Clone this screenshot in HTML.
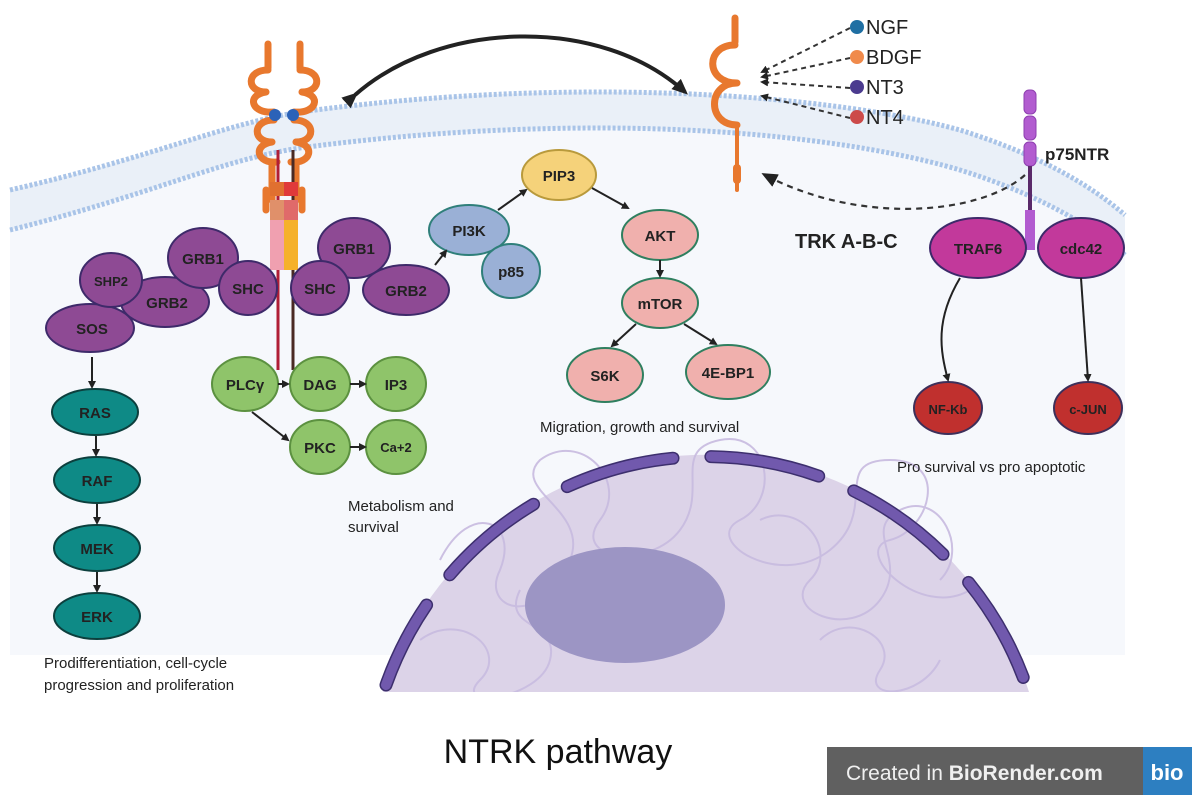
<!DOCTYPE html>
<html><head><meta charset="utf-8"><style>
html,body{margin:0;padding:0;background:#fff;width:1200px;height:808px;overflow:hidden;}
svg{display:block;}
svg text{font-family:"Liberation Sans",sans-serif;}
</style></head><body>
<svg width="1200" height="808" viewBox="0 0 1200 808" xmlns="http://www.w3.org/2000/svg">
<defs>
<marker id="ah" markerWidth="8" markerHeight="8" refX="6" refY="4" orient="auto" markerUnits="userSpaceOnUse"><path d="M0,0 L8,4 L0,8 Z" fill="#222"/></marker>
<marker id="ahb" markerWidth="16" markerHeight="14" refX="12" refY="7" orient="auto" markerUnits="userSpaceOnUse"><path d="M0,0 L16,7 L0,14 Z" fill="#222"/></marker>
</defs>
<path d="M10,190 C150,158 220,125 300,112 C420,96 520,92 600,92 C750,92 880,108 960,130 C1040,155 1090,185 1125,215 L1125,655 L10,655 Z" fill="#f6f8fc"/>
<path d="M10,190 C150,158 220,125 300,112 C420,96 520,92 600,92 C750,92 880,108 960,130 C1040,155 1090,185 1125,215 L1125,255 C1090,225 1040,195 960,170 C880,146 750,128 600,128 C520,128 420,132 300,148 C220,160 150,195 10,230 Z" fill="#eaf0f8"/>
<path d="M10,190 C150,158 220,125 300,112 C420,96 520,92 600,92 C750,92 880,108 960,130 C1040,155 1090,185 1125,215" fill="none" stroke="#a9c4e8" stroke-width="5" stroke-dasharray="3,2"/>
<path d="M10,230 C150,195 220,160 300,148 C420,132 520,128 600,128 C750,128 880,146 960,170 C1040,195 1090,225 1125,255" fill="none" stroke="#a9c4e8" stroke-width="5" stroke-dasharray="3,2"/>
<!-- nucleus -->
<path d="M383,692 A340,345 0 0 1 1029,692 Z" fill="#dcd3e8"/>
<g fill="none" stroke="#c8bbe0" stroke-width="2" opacity="0.9">
<path d="M440,560 c30,-60 80,-40 60,10 c-20,40 40,60 70,-10 c20,-50 -60,-70 -30,-100 c40,-30 90,20 60,60 c-30,40 50,50 80,10 c30,-40 -10,-80 40,-90 c50,-10 60,60 20,80 c-40,20 40,70 90,30 c50,-40 0,-90 60,-90 c60,0 40,70 0,80 c-40,10 30,80 80,50"/>
<path d="M420,640 c40,-30 90,10 60,40 c-30,30 60,20 70,-20 c10,-40 -50,-30 -30,-70 M760,520 c40,-20 80,30 50,60 c-30,30 40,60 70,20 c30,-40 -20,-70 20,-90 c40,-20 70,40 40,70 M820,640 c30,-30 80,0 60,30 c-20,30 40,30 60,-10"/>
</g>
<ellipse cx="625" cy="605" rx="100" ry="58" fill="#9c95c4"/>
<path d="M386,685 A340,345 0 0 1 1026,685" fill="none" stroke="#3d2f6e" stroke-width="13" stroke-dasharray="110,38" stroke-linecap="round" stroke-dashoffset="20"/>
<path d="M386,685 A340,345 0 0 1 1026,685" fill="none" stroke="#7159ad" stroke-width="10" stroke-dasharray="110,38" stroke-linecap="round" stroke-dashoffset="20"/>
<rect x="370" y="692" width="680" height="20" fill="#fff"/>
<!-- big arrow -->
<path d="M355,95 C440,20 600,15 685,92" fill="none" stroke="#222" stroke-width="4" marker-start="url(#ahb)" marker-end="url(#ahb)"/>
<!-- left receptor -->
<g fill="none" stroke="#e8782e" stroke-width="7" stroke-linecap="round">
<line x1="268" y1="44" x2="268" y2="68"/><line x1="300" y1="44" x2="300" y2="68"/>
<path d="M268,70 c-22,0 -22,22 -2,22 M266,92 c-20,3 -15,22 8,20"/>
<path d="M300,70 c22,0 22,22 2,22 M302,92 c20,3 15,22 -8,20"/>
<path d="M274,120 c-22,0 -22,22 -2,22 M272,142 c-20,3 -15,22 5,20"/>
<path d="M294,120 c22,0 22,22 2,22 M296,142 c20,3 15,22 -5,20"/>
<line x1="272" y1="162" x2="272" y2="200"/><line x1="296" y1="162" x2="296" y2="200"/>
<line x1="266" y1="190" x2="266" y2="210"/><line x1="302" y1="190" x2="302" y2="210"/>
</g>
<line x1="278" y1="150" x2="278" y2="370" stroke="#b01e36" stroke-width="3"/>
<line x1="293" y1="150" x2="293" y2="370" stroke="#4a2a24" stroke-width="3"/>
<rect x="270" y="182" width="14" height="14" fill="#e07030"/><rect x="284" y="182" width="14" height="14" fill="#e03a3a"/>
<rect x="270" y="200" width="14" height="20" fill="#e0906a"/><rect x="284" y="200" width="14" height="20" fill="#e06a6a"/>
<rect x="270" y="220" width="14" height="50" fill="#f0a0b0"/><rect x="284" y="220" width="14" height="50" fill="#f5b12a"/>
<circle cx="275" cy="115" r="6" fill="#2b62b8"/><circle cx="293" cy="115" r="6" fill="#2b62b8"/>
<!-- right receptor -->
<g fill="none" stroke="#e8782e" stroke-width="7" stroke-linecap="round">
<line x1="735" y1="18" x2="735" y2="42"/>
<path d="M735,45 c-30,0 -30,38 2,38 M737,83 c-30,0 -30,42 0,42"/>
<line x1="737" y1="125" x2="737" y2="190" stroke-width="4"/>
<line x1="737" y1="168" x2="737" y2="180" stroke-width="8"/>
</g>
<g stroke="#333" stroke-width="2" stroke-dasharray="5,4" fill="none">
<line x1="850" y1="28" x2="762" y2="72" marker-end="url(#ah)"/>
<line x1="850" y1="58" x2="762" y2="77" marker-end="url(#ah)"/>
<line x1="850" y1="88" x2="762" y2="82" marker-end="url(#ah)"/>
<line x1="850" y1="118" x2="762" y2="96" marker-end="url(#ah)"/>
</g>
<circle cx="857" cy="27" r="7" fill="#1f6fa3"/><circle cx="857" cy="57" r="7" fill="#f08a4b"/>
<circle cx="857" cy="87" r="7" fill="#4b3b8f"/><circle cx="857" cy="117" r="7" fill="#cc4a4a"/>
<g font-size="20" fill="#222"><text x="866" y="34">NGF</text><text x="866" y="64">BDGF</text><text x="866" y="94">NT3</text><text x="866" y="124">NT4</text></g>
<g fill="#b25cd0" stroke="#8e3fb0" stroke-width="1">
<rect x="1024" y="90" width="12" height="24" rx="5"/><rect x="1024" y="116" width="12" height="24" rx="5"/><rect x="1024" y="142" width="12" height="24" rx="5"/>
</g>
<line x1="1030" y1="166" x2="1030" y2="212" stroke="#5a2a6a" stroke-width="4"/>
<rect x="1025" y="210" width="10" height="40" fill="#b25cd0"/>
<text x="1045" y="160" font-size="17" font-weight="bold" fill="#222">p75NTR</text>
<path d="M1025,175 C980,215 860,225 765,175" fill="none" stroke="#333" stroke-width="2.2" stroke-dasharray="6,5" marker-end="url(#ahb)"/>
<text x="795" y="248" font-size="20" font-weight="bold" fill="#222">TRK A-B-C</text>
<g stroke-width="2" font-weight="bold" text-anchor="middle" font-size="15" fill="#222">
<g stroke="#3d2a6a" fill="#c2399b">
<ellipse cx="978" cy="248" rx="48" ry="30"/><ellipse cx="1081" cy="248" rx="43" ry="30"/>
</g>
<g stroke="#3d2f5a" fill="#c0302e">
<ellipse cx="948" cy="408" rx="34" ry="26"/><ellipse cx="1088" cy="408" rx="34" ry="26"/>
</g>
<g stroke="#3e2a6a" fill="#8e4a94">
<ellipse cx="90" cy="328" rx="44" ry="24"/>
<ellipse cx="165" cy="302" rx="44" ry="25"/>
<ellipse cx="111" cy="280" rx="31" ry="27"/>
<ellipse cx="203" cy="258" rx="35" ry="30"/>
<ellipse cx="248" cy="288" rx="29" ry="27"/>
<ellipse cx="354" cy="248" rx="36" ry="30"/>
<ellipse cx="406" cy="290" rx="43" ry="25"/>
<ellipse cx="320" cy="288" rx="29" ry="27"/>
</g>
<g stroke="#2f7f7a" fill="#9ab0d6">
<ellipse cx="469" cy="230" rx="40" ry="25"/><ellipse cx="511" cy="271" rx="29" ry="27"/>
</g>
<ellipse cx="559" cy="175" rx="37" ry="25" stroke="#b99a3c" fill="#f5d27a"/>
<g stroke="#2f7f5f" fill="#f0b0ad">
<ellipse cx="660" cy="235" rx="38" ry="25"/><ellipse cx="660" cy="303" rx="38" ry="25"/>
<ellipse cx="605" cy="375" rx="38" ry="27"/><ellipse cx="728" cy="372" rx="42" ry="27"/>
</g>
<g stroke="#0c3f3d" fill="#0e8a86">
<ellipse cx="95" cy="412" rx="43" ry="23"/><ellipse cx="97" cy="480" rx="43" ry="23"/>
<ellipse cx="97" cy="548" rx="43" ry="23"/><ellipse cx="97" cy="616" rx="43" ry="23"/>
</g>
<g stroke="#5c9140" fill="#8fc46a">
<ellipse cx="245" cy="384" rx="33" ry="27"/><ellipse cx="320" cy="384" rx="30" ry="27"/>
<ellipse cx="396" cy="384" rx="30" ry="27"/><ellipse cx="320" cy="447" rx="30" ry="27"/>
<ellipse cx="396" cy="447" rx="30" ry="27"/>
</g>
<g stroke="none">
<text x="978" y="254">TRAF6</text><text x="1081" y="254">cdc42</text>
<text x="948" y="414" font-size="13">NF-Kb</text><text x="1088" y="414" font-size="13">c-JUN</text>
<text x="92" y="334">SOS</text><text x="167" y="308">GRB2</text><text x="111" y="286" font-size="13">SHP2</text>
<text x="203" y="264">GRB1</text><text x="248" y="294">SHC</text><text x="354" y="254">GRB1</text>
<text x="406" y="296">GRB2</text><text x="320" y="294">SHC</text>
<text x="469" y="236">PI3K</text><text x="511" y="277">p85</text><text x="559" y="181">PIP3</text>
<text x="660" y="241">AKT</text><text x="660" y="309">mTOR</text><text x="605" y="381">S6K</text><text x="728" y="378">4E-BP1</text>
<text x="95" y="418">RAS</text><text x="97" y="486">RAF</text><text x="97" y="554">MEK</text><text x="97" y="622">ERK</text>
<text x="245" y="390">PLCγ</text><text x="320" y="390">DAG</text><text x="396" y="390">IP3</text>
<text x="320" y="453">PKC</text><text x="396" y="452" font-size="13">Ca+2</text>
</g>
</g>
<g stroke="#222" stroke-width="2" fill="none" marker-end="url(#ah)">
<line x1="435" y1="265" x2="446" y2="251"/>
<line x1="498" y1="210" x2="526" y2="190"/>
<line x1="592" y1="188" x2="628" y2="208"/>
<line x1="660" y1="260" x2="660" y2="276"/>
<line x1="636" y1="324" x2="612" y2="346"/>
<line x1="684" y1="324" x2="716" y2="344"/>
<line x1="92" y1="357" x2="92" y2="387"/>
<line x1="96" y1="436" x2="96" y2="455"/>
<line x1="97" y1="504" x2="97" y2="523"/>
<line x1="97" y1="572" x2="97" y2="591"/>
<line x1="278" y1="384" x2="288" y2="384"/>
<line x1="350" y1="384" x2="365" y2="384"/>
<line x1="350" y1="447" x2="365" y2="447"/>
<line x1="252" y1="412" x2="288" y2="440"/>
<path d="M960,278 C935,320 940,350 948,380"/>
<line x1="1081" y1="278" x2="1088" y2="380"/>
</g>
<g font-size="15" fill="#222">
<text x="540" y="432">Migration, growth and survival</text>
<text x="897" y="472">Pro survival vs pro apoptotic</text>
<text x="348" y="511">Metabolism and</text><text x="348" y="532">survival</text>
<text x="44" y="668">Prodifferentiation, cell-cycle</text><text x="44" y="690">progression and proliferation</text>
</g>
<text x="558" y="763" font-size="34" text-anchor="middle" fill="#111">NTRK pathway</text>
<rect x="827" y="747" width="365" height="48" fill="#606060"/>
<rect x="1143" y="747" width="49" height="48" fill="#2d7fc1"/>
<text x="846" y="780" font-size="21" fill="#f0f0f0">Created in <tspan font-weight="bold">BioRender.com</tspan></text>
<text x="1167" y="780" font-size="22" font-weight="bold" fill="#fff" text-anchor="middle">bio</text>
</svg>
</body></html>
